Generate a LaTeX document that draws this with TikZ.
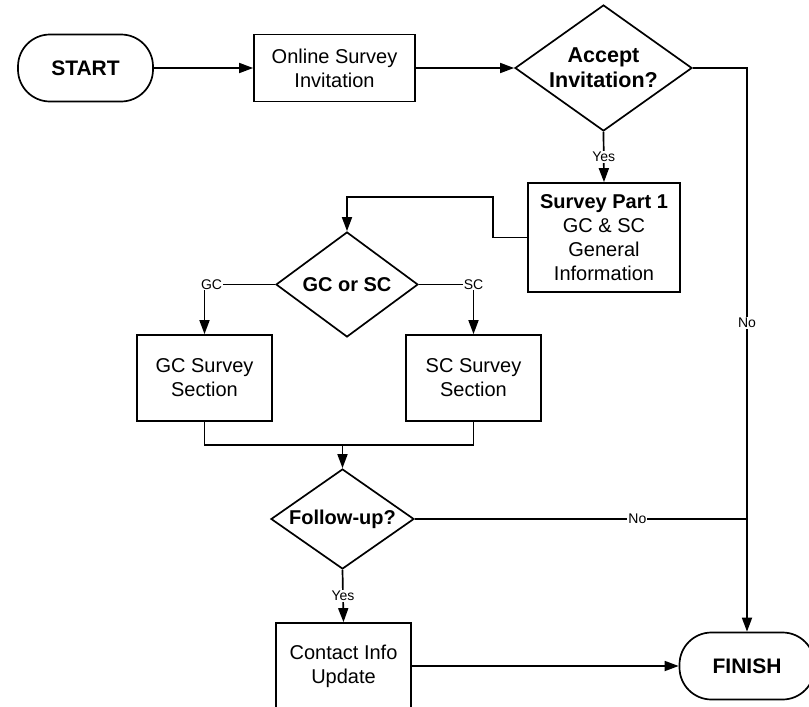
\documentclass[tikz,border=0pt]{standalone}
\usepackage{fontspec}
\setmainfont{Liberation Sans}
\usetikzlibrary{shapes.geometric,arrows.meta}

\begin{document}
\begin{tikzpicture}[x=1pt,y=-1pt,line width=1.7pt,
    box/.style={draw,rectangle,minimum width=135pt,minimum height=86pt,align=center,inner sep=2pt,font=\fontsize{20}{24}\selectfont},
    term/.style={draw,rectangle,rounded corners=32pt,minimum width=135pt,minimum height=67pt,font=\fontsize{21}{24}\selectfont\bfseries},
    decision/.style={draw,diamond,inner sep=0pt,align=center,font=\fontsize{20}{24}\selectfont\bfseries},
    lbl/.style={fill=white,inner sep=1pt,font=\fontsize{14}{16}\selectfont},
    arr/.style={-{Triangle[length=14pt,width=10pt]}}]
    \useasboundingbox (0,0) rectangle (809,707);
    \clip (0,0) rectangle (809,707);
    \node[term] (start) at (85.5,68) {START};
    \node[box,minimum width=161pt,minimum height=67pt] (online) at (334.5,68) {Online Survey\\Invitation};
    \node[decision,minimum width=177pt,minimum height=126pt,aspect=1.4,font=\fontsize{21.5}{25}\selectfont\bfseries] (accept) at (603.5,68) {Accept\\Invitation?};
    \node[box,minimum width=152pt,minimum height=109pt] (part1) at (604,237.5) {\textbf{Survey Part 1}\\GC \& SC\\General\\Information};
    \node[decision,minimum width=142pt,minimum height=105pt,aspect=1.35] (gcsc) at (347,284.5) {GC or SC};
    \node[box] (gc) at (204.5,378) {GC Survey\\Section};
    \node[box] (sc) at (473.5,378) {SC Survey\\Section};
    \node[decision,minimum width=143pt,minimum height=100pt,aspect=1.43] (follow) at (342.5,519) {Follow-up?};
    \node[box] (contact) at (343.5,666) {Contact Info\\Update};
    \node[term] (finish) at (747,666) {FINISH};
    \coordinate (bend) at (493,197);
    \coordinate (join) at (342.5,445);
    \draw[arr] (start) -- (online);
    \draw[arr] (online) -- (accept);
    \draw[arr] (accept.east) -| node[lbl,pos=0.726]{No} (finish.north);
    \draw[arr] (accept.south) -- node[lbl]{Yes} (part1.north);
    \draw[arr] (part1.west) -| (bend) -| (gcsc.north);
    \draw[arr] (gcsc.west) -| node[lbl,pos=0.45]{GC} (gc.north);
    \draw[arr] (gcsc.east) -| node[lbl,pos=0.5]{SC} (sc.north);
    \draw (gc.south) |- (join) -| (sc.south);
    \draw[arr] (join) -- (follow.north);
    \draw (follow.east) -- node[lbl,pos=0.67]{No} (follow.east -| finish.north);
    \draw[arr] (follow.south) -- node[lbl]{Yes} (contact.north);
    \draw[arr] (contact) -- (finish);
\end{tikzpicture}
\end{document}
